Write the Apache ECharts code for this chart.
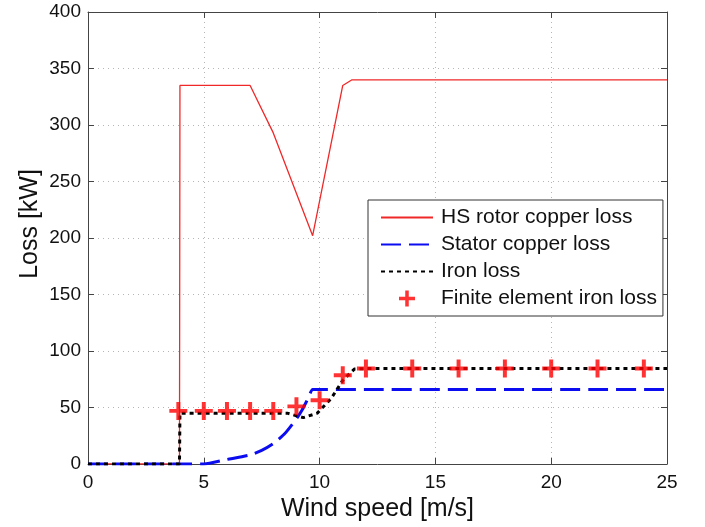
<!DOCTYPE html>
<html><head><meta charset="utf-8">
<script src="https://cdn.jsdelivr.net/npm/echarts@6/dist/echarts.min.js"></script>
<style>html,body{margin:0;padding:0;background:#fff}#c{width:705px;height:527px}</style>
</head><body><div id="c"></div>
<script>
const xTicks = [0, 5, 10, 15, 20, 25];
const yTicks = [0, 50, 100, 150, 200, 250, 300, 350, 400];
const rotorX = [0, 3.95, 3.97, 7.0, 8.0, 9.7, 11.0, 11.4, 25];
const rotorY = [0, 0, 335, 335, 293, 202, 335, 340, 340];
const statorX = [0, 5, 6, 7, 7.5, 8, 8.5, 9, 9.25, 9.5, 9.7, 10, 25];
const statorY = [0, 0, 4, 8, 12, 18, 27, 40, 48, 58, 66, 66, 66];
const ironX = [0, 3.95, 3.97, 8.6, 9.3, 9.9, 10.5, 11.0, 11.5, 12, 25];
const ironY = [0, 0, 45, 45, 41, 45, 58, 74, 84, 84.5, 84.5];
const feX = [3.9, 5, 6, 7, 8, 9, 10, 11, 12, 14, 16, 18, 20, 22, 24];
const feY = [47, 47, 47, 47, 47, 51, 56.5, 78.5, 84.5, 84.5, 84.5, 84.5, 84.5, 84.5, 84.5];
const names = ['HS rotor copper loss', 'Stator copper loss', 'Iron loss', 'Finite element iron loss'];

const zip = (a, b) => a.map((v, i) => [v, b[i]]);
const plus = 'path://M3.9,0 H6.1 V3.9 H10 V6.1 H6.1 V10 H3.9 V6.1 H0 V3.9 H3.9 Z';
const font = 'Liberation Sans, Arial, sans-serif';
const chart = echarts.init(document.getElementById('c'), null, {renderer: 'canvas'});
const axisCommon = {
  axisLine: {show: true, onZero: false, lineStyle: {color: '#444', width: 1}},
  axisTick: {show: true, inside: true, length: 6, lineStyle: {color: '#444'}},
};
const gridLine = {show: true, lineStyle: {color: '#b5b5b5', type: [1, 4], width: 1}};
chart.setOption({
  animation: false,
  backgroundColor: '#fff',
  grid: {left: 88, right: 38, top: 12, bottom: 63, containLabel: false},
  xAxis: [
    Object.assign({type: 'value', min: 0, max: 25, interval: 5, position: 'bottom',
      name: 'Wind speed [m/s]', nameLocation: 'middle', nameGap: 33,
      nameTextStyle: {fontSize: 25, color: '#111', fontFamily: font},
      axisLabel: {fontSize: 19, color: '#111', fontFamily: font, margin: 9},
      splitLine: gridLine}, axisCommon),
    Object.assign({type: 'value', min: 0, max: 25, interval: 5, position: 'top',
      axisLabel: {show: false}, splitLine: {show: false}}, axisCommon)
  ],
  yAxis: [
    Object.assign({type: 'value', min: 0, max: 400, interval: 50, position: 'left',
      axisLabel: {fontSize: 19, color: '#111', fontFamily: font, margin: 7},
      splitLine: gridLine}, axisCommon),
    Object.assign({type: 'value', min: 0, max: 400, interval: 50, position: 'right',
      axisLabel: {show: false}, splitLine: {show: false}}, axisCommon)
  ],
  graphic: [{
    type: 'text', x: 30, y: 224, rotation: Math.PI / 2,
    style: {text: 'Loss [kW]', font: '25px ' + font, fill: '#111', align: 'center', verticalAlign: 'middle'}
  }],
  legend: {
    orient: 'vertical', left: 368, top: 200,
    data: [
      {name: names[0], itemStyle: {opacity: 0}},
      {name: names[1], itemStyle: {opacity: 0}},
      {name: names[2], itemStyle: {opacity: 0}},
      {name: names[3], icon: plus, itemStyle: {color: '#ff0000'}}
    ],
    itemWidth: 52, itemHeight: 16, itemGap: 6,
    padding: [7, 6, 7, 12],
    borderColor: '#333', borderWidth: 1, backgroundColor: '#fff',
    textStyle: {fontSize: 21, color: '#111', fontFamily: font, padding: [0, 0, 0, 3]}
  },
  series: [
    {name: names[0], type: 'line', data: zip(rotorX, rotorY), symbol: 'none',
      lineStyle: {color: '#f02828', width: 1.3}, itemStyle: {color: '#f02828'}, z: 2},
    {name: names[1], type: 'line', data: zip(statorX, statorY), symbol: 'none', smooth: 0.2,
      lineStyle: {color: '#0c0cf0', width: 3, type: [20, 8]}, itemStyle: {color: '#0c0cf0'}, z: 3},
    {name: names[2], type: 'line', data: zip(ironX, ironY), symbol: 'none',
      lineStyle: {color: '#000', width: 3, type: [4, 4]}, itemStyle: {color: '#000'}, z: 4},
    {name: names[3], type: 'scatter', data: zip(feX, feY), symbol: plus, symbolSize: 18,
      itemStyle: {color: '#ff0000'}, z: 5}
  ]
});
</script></body></html>
